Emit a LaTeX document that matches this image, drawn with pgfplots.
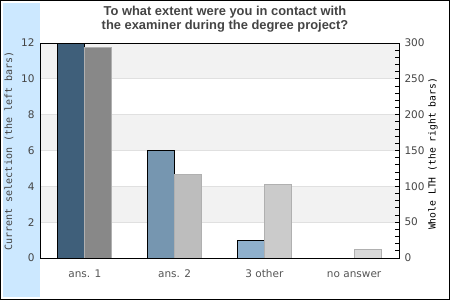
\documentclass[border=0pt]{standalone}
\usepackage{fontspec}
\setmainfont{DejaVu Sans}
\newfontfamily\titlefont{Liberation Sans}
\newfontfamily\monofont{DejaVu Sans Mono}
\usepackage{pgfplots}
\pgfplotsset{compat=1.18}
\definecolor{strip}{HTML}{CCE8FF}
\definecolor{band}{HTML}{F2F2F2}
\definecolor{gridc}{HTML}{E0E0E0}
\definecolor{titlec}{HTML}{444444}
\definecolor{labc}{HTML}{444444}
\definecolor{xlabc}{HTML}{555555}
\definecolor{ca}{HTML}{3F5F7A}
\definecolor{cb}{HTML}{7696B0}
\definecolor{cc}{HTML}{8FB0CC}
\definecolor{wa}{HTML}{888888}
\definecolor{wb}{HTML}{BDBDBD}
\definecolor{wc}{HTML}{CBCBCB}
\definecolor{wd}{HTML}{D9D9D9}
\definecolor{wborder}{HTML}{B0B0B0}
\begin{document}
\begin{tikzpicture}[x=1pt,y=1pt]
\fill[strip] (3,3) rectangle (40,297);
\draw[line width=1pt] (0.5,0.5) rectangle (449.5,299.5);
\node[font=\titlefont\bfseries\fontsize{12.9}{14}\selectfont, text=titlec, align=center] at (225,280.5) {To what extent were you in contact with\\the examiner during the degree project?};
\begin{axis}[
  at={(40pt,42pt)}, anchor=south west, scale only axis,
  width=359pt, height=215pt,
  axis on top,
  xmin=-0.5, xmax=3.5, ymin=0, ymax=12,
  xtick={0,1,2,3},
  xticklabels={ans. 1, ans. 2, 3 other, no answer},
  ytick={0,2,...,12},
  major tick length=0pt,
  axis line style={black, line width=0.9pt},
  /pgf/number format/assume math mode=true,
  yticklabel style={font=\fontsize{10.5}{12}\selectfont, text=labc, xshift=-2pt},
  xticklabel style={font=\fontsize{10.5}{12}\selectfont, text=xlabc, anchor=base, yshift=-19pt},
  ylabel={Current selection (the left bars)},
  every axis y label/.style={at={(axis description cs:-0.0864,0.498)}, rotate=90, anchor=center, font=\monofont\fontsize{10}{12}\selectfont, text=labc},
]
\fill[band] (axis cs:-0.5,10) rectangle (axis cs:3.5,12);
\fill[band] (axis cs:-0.5,6) rectangle (axis cs:3.5,8);
\fill[band] (axis cs:-0.5,2) rectangle (axis cs:3.5,4);
\draw[gridc, line width=0.8pt] (axis cs:-0.5,2) -- (axis cs:3.5,2)
  (axis cs:-0.5,4) -- (axis cs:3.5,4)
  (axis cs:-0.5,6) -- (axis cs:3.5,6)
  (axis cs:-0.5,8) -- (axis cs:3.5,8)
  (axis cs:-0.5,10) -- (axis cs:3.5,10);
\addplot[ybar, bar width=27pt, bar shift=-13.5pt, fill=ca, draw=black, line width=0.9pt] coordinates {(0,12)};
\addplot[ybar, bar width=27pt, bar shift=-13.5pt, fill=cb, draw=black, line width=0.9pt] coordinates {(1,6)};
\addplot[ybar, bar width=27pt, bar shift=-13.5pt, fill=cc, draw=black, line width=0.9pt] coordinates {(2,1)};
\addplot[ybar, bar width=27pt, bar shift=-13.5pt, fill=cc, draw=none] coordinates {(3,0)};
\end{axis}
\begin{axis}[
  at={(40pt,42pt)}, anchor=south west, scale only axis,
  width=359pt, height=215pt,
  axis on top,
  xmin=-0.5, xmax=3.5, ymin=0, ymax=300,
  xtick=\empty, ytick pos=right,
  ytick={0,50,...,300},
  minor ytick={0,10,...,300},
  tick align=inside,
  major tick length=4pt, minor tick length=4pt,
  tick style={black, line width=0.8pt},
  axis line style={black, line width=0.9pt},
  /pgf/number format/assume math mode=true,
  yticklabel style={font=\fontsize{10.5}{12}\selectfont, text=labc, xshift=2pt},
  ylabel={Whole LTH (the right bars)},
  every axis y label/.style={at={(axis description cs:1.0947,0.484)}, rotate=90, anchor=center, font=\monofont\fontsize{9.7}{12}\selectfont, text=black},
]
\addplot[ybar, bar width=27pt, bar shift=13.5pt, fill=wa, draw=wborder, line width=0.9pt] coordinates {(0,294)};
\addplot[ybar, bar width=27pt, bar shift=13.5pt, fill=wb, draw=wborder, line width=0.9pt] coordinates {(1,117)};
\addplot[ybar, bar width=27pt, bar shift=13.5pt, fill=wc, draw=wborder, line width=0.9pt] coordinates {(2,103)};
\addplot[ybar, bar width=27pt, bar shift=13.5pt, fill=wd, draw=wborder, line width=0.9pt] coordinates {(3,12)};
\end{axis}
\end{tikzpicture}
\end{document}
